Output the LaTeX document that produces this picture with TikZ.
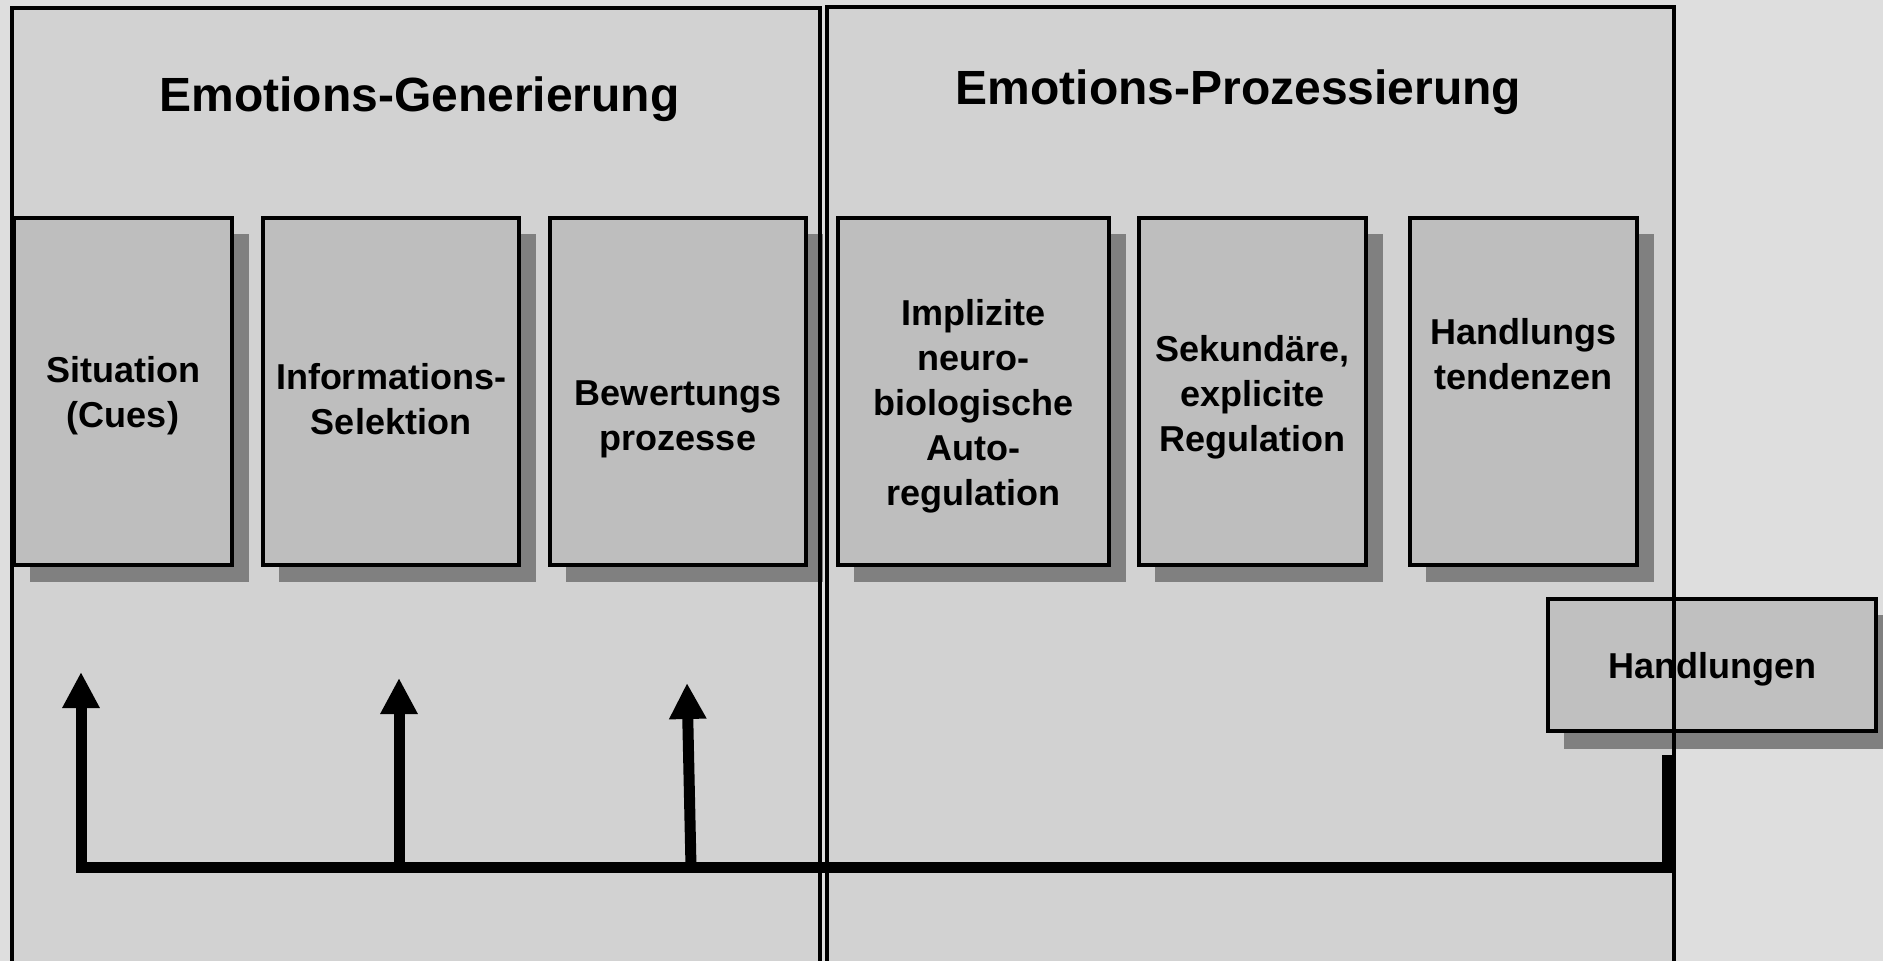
\documentclass[tikz,border=0pt]{standalone}
\usepackage{fontspec}
\setmainfont{Liberation Sans}
\usetikzlibrary{arrows.meta,fit}
\definecolor{bgout}{HTML}{DEDEDE}
\definecolor{panelfill}{HTML}{D2D2D2}
\definecolor{boxfill}{HTML}{BEBEBE}
\definecolor{handfill}{HTML}{C0C0C0}
\definecolor{shadowgray}{HTML}{808080}
\newcommand\pbox[5]{%
  \fill[shadowgray] (#2+16,#3+16) rectangle (#4+17,#5+17);
  \node[procbox, fit={(#2,#3) (#4,#5)}] (#1) {};
}
\begin{document}
\begin{tikzpicture}[x=0.5pt,y=-0.5pt,
  panelborder/.style={draw=black,line width=2pt},
  procbox/.style={draw=black,line width=1.9pt,fill=boxfill,inner sep=0pt,outer sep=0pt},
  handbox/.style={draw=black,line width=1.9pt,fill=handfill,inner sep=0pt,outer sep=0pt},
  boxtext/.style={anchor=base,inner sep=0pt,font=\fontsize{18}{22.5}\selectfont\bfseries},
  titletext/.style={anchor=base,inner sep=0pt,font=\fontsize{24}{28}\selectfont\bfseries},
  conn/.style={line width=5.5pt,draw=black,line join=miter},
  tiparrow/.style={-{Triangle[length=18pt,width=17.5pt]}}
]
\useasboundingbox (0,0) rectangle (1883,961);
\clip (0,0) rectangle (1883,961);
\fill[bgout] (0,0) rectangle (1883,961);
% panels
\fill[panelfill] (12,8) rectangle (820,1000);
\fill[panelfill] (827,7) rectangle (1674,1000);
% process boxes
\pbox{sit}{14}{218}{232}{565}
\pbox{info}{263}{218}{519}{565}
\pbox{bew}{550}{218}{806}{565}
\pbox{impl}{838}{218}{1109}{565}
\pbox{sek}{1139}{218}{1366}{565}
\pbox{tend}{1410}{218}{1637}{565}
% Handlungen box
\fill[shadowgray] (1564,615) rectangle (1900,749);
\node[handbox, fit={(1548,599) (1876,731)}] (handl) {};
% titles
\node[titletext] (title1) at (419.5,112) {Emotions-Generierung};
\node[titletext] (title2) at (1238.5,105) {Emotions-Prozessierung};
% texts
\node[boxtext] (t1) at (123,383) {\begin{tabular}[t]{@{}c@{}}Situation\\(Cues)\end{tabular}};
\node[boxtext] (t2) at (391,390) {\begin{tabular}[t]{@{}c@{}}Informations-\\Selektion\end{tabular}};
\node[boxtext] (t3) at (678,406) {\begin{tabular}[t]{@{}c@{}}Bewertungs\\prozesse\end{tabular}};
\node[boxtext] (t4) at (973.5,326) {\begin{tabular}[t]{@{}c@{}}Implizite\\neuro-\\biologische\\Auto-\\regulation\end{tabular}};
\node[boxtext] (t5) at (1252.5,362) {\begin{tabular}[t]{@{}c@{}}Sekundäre,\\explicite\\Regulation\end{tabular}};
\node[boxtext] (t6) at (1523.5,345) {\begin{tabular}[t]{@{}c@{}}Handlungs\\tendenzen\end{tabular}};
\node[boxtext] (t7) at (1712,678) {Handlungen};
% panel borders
\draw[panelborder] (12,8) rectangle (820,1000);
\draw[panelborder] (827,7) rectangle (1674,1000);
% connectors
\coordinate (rtop) at (1667,755);
\coordinate (rbot) at (1667,867);
\coordinate (lbot) at (81,867);
\coordinate (tip1) at (81,672);
\coordinate (b2) at (399,867);
\coordinate (tip2) at (399,678);
\coordinate (b3) at (691,867);
\coordinate (tip3) at (687,683);
\draw[conn,tiparrow] (rtop) -- (rbot) -- (lbot) -- (tip1);
\draw[conn,tiparrow] (b2) -- (tip2);
\draw[conn,tiparrow] (b3) -- (tip3);
\end{tikzpicture}
\end{document}
